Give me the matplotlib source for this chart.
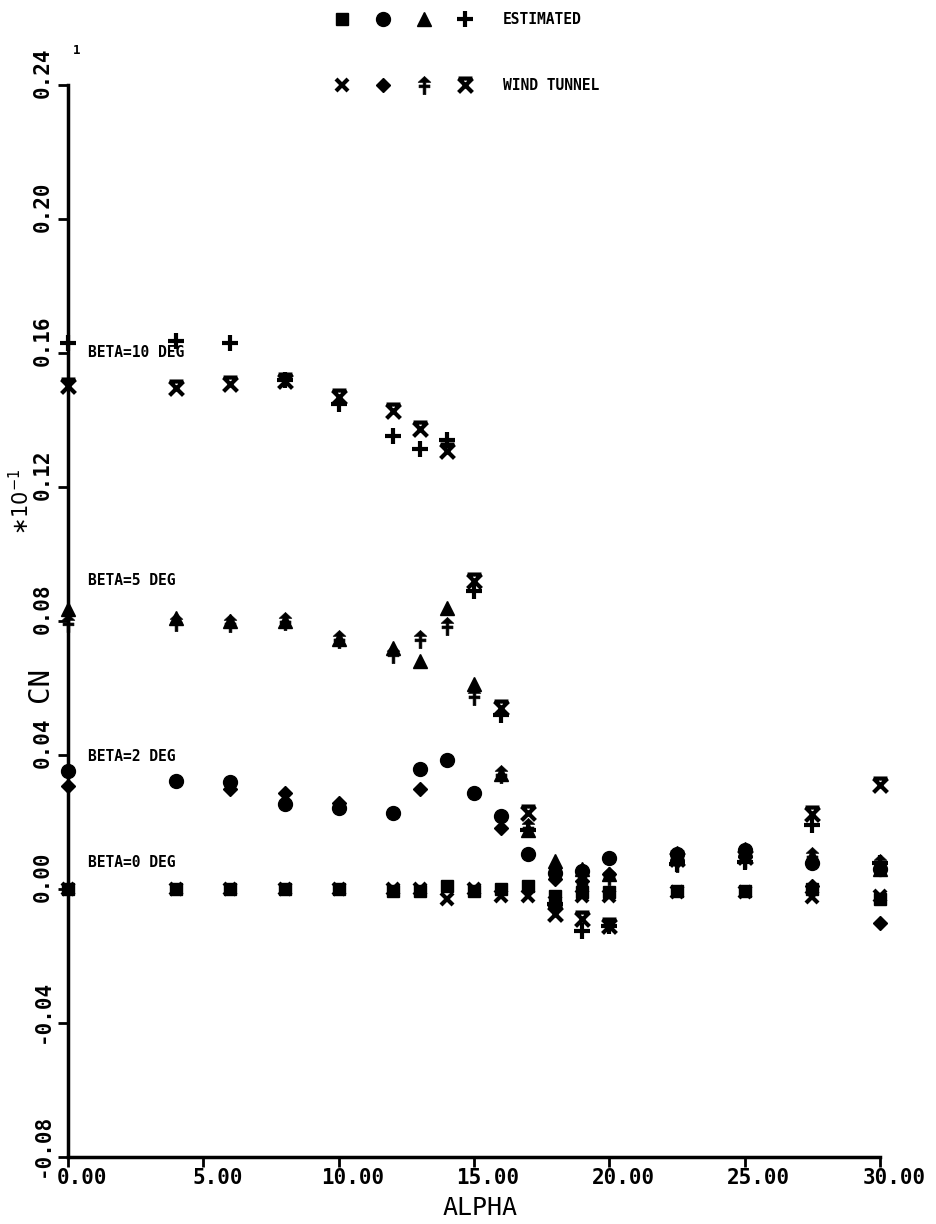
import numpy as np
import matplotlib
matplotlib.use("Agg")
import matplotlib.pyplot as plt
from matplotlib.path import Path
from matplotlib.transforms import ScaledTranslation

# angle of attack, deg
alpha = [0, 4, 6, 8, 10, 12, 13, 14, 15, 16, 17, 18, 19, 20, 22.5, 25, 27.5, 30]

# CN (x10^-1), estimated vs wind tunnel for each sideslip
cn_est_b0 = [0.0, 0.0, 0.0, 0.0, 0.0, -0.0005, -0.0005, 0.001, -0.0005, 0.0, 0.001,
             -0.002, -0.001, -0.001, -0.0005, -0.0005, 0.0, -0.003]
cn_wt_b0 = [0.0, 0.0, 0.0, 0.0, 0.0, 0.0, 0.0, -0.003, 0.0, -0.002, -0.002,
            -0.004, -0.002, -0.002, -0.001, -0.001, -0.0025, -0.002]
cn_est_b2 = [0.0352, 0.0322, 0.032, 0.0254, 0.0242, 0.0227, 0.0358, 0.0385, 0.0287, 0.0218,
             0.0104, 0.0048, 0.0055, 0.0093, 0.0105, 0.0115, 0.0078, 0.006]
cn_wt_b2 = [0.0307, 0.0322, 0.0298, 0.0287, 0.0257, 0.0227, 0.0298, 0.0385, 0.0287, 0.0182,
            0.0104, 0.003, 0.0025, 0.0045, 0.0085, 0.0095, 0.001, -0.010]
cn_est_b5 = [0.0836, 0.081, 0.080, 0.080, 0.0746, 0.072, 0.068, 0.0839, 0.0612, 0.0343,
             0.0175, 0.0084, 0.006, 0.0045, 0.0107, 0.012, 0.0100, 0.006]
cn_wt_b5 = [0.0794, 0.0798, 0.0795, 0.080, 0.0746, 0.070, 0.0746, 0.0785, 0.0576, 0.0343,
            0.0185, 0.005, 0.0015, 0.004, 0.0077, 0.009, 0.0100, 0.0077]
cn_est_b10 = [0.163, 0.1636, 0.163, 0.152, 0.1448, 0.1352, 0.1313, 0.134, 0.089, 0.052,
              0.0175, -0.0045, -0.0125, -0.011, 0.0075, 0.008, 0.019, 0.0077]
cn_wt_b10 = [0.150, 0.1496, 0.1507, 0.1516, 0.147, 0.1427, 0.1373, 0.1307, 0.092, 0.054,
             0.0227, -0.0075, -0.009, -0.011, 0.009, 0.0095, 0.0224, 0.031]

xticks = [0, 5, 10, 15, 20, 25, 30]
yticks = [-0.08, -0.04, 0.0, 0.04, 0.08, 0.12, 0.16, 0.20, 0.24]
beta_labels = ["BETA=10 DEG", "BETA=5 DEG", "BETA=2 DEG", "BETA=0 DEG"]
beta_label_y = [0.160, 0.092, 0.0397, 0.0078]

# custom plotter symbols
arrow_plus = Path([(0, 1), (0.7, 0.35), (0.15, 0.35), (0.15, 0.05), (0.6, 0.05), (0.6, -0.25),
                   (0.15, -0.25), (0.15, -1), (-0.15, -1), (-0.15, -0.25), (-0.6, -0.25),
                   (-0.6, 0.05), (-0.15, 0.05), (-0.15, 0.35), (-0.7, 0.35), (0, 1)],
                  [Path.MOVETO] + [Path.LINETO] * 14 + [Path.CLOSEPOLY])
x_bar = Path([(-1, 1), (1, -1), (1, 1), (-1, -1), (-1, 1), (1, 1)],
             [Path.MOVETO, Path.LINETO, Path.MOVETO, Path.LINETO, Path.MOVETO, Path.LINETO])

styles = [
    (cn_est_b0, dict(marker="s", ms=9, mfc="k", mec="k")),
    (cn_est_b2, dict(marker="o", ms=10, mfc="k", mec="k")),
    (cn_est_b5, dict(marker="^", ms=10, mfc="k", mec="k")),
    (cn_est_b10, dict(marker="+", ms=12, mew=3, mec="k")),
    (cn_wt_b0, dict(marker="x", ms=9, mew=3, mec="k")),
    (cn_wt_b2, dict(marker="D", ms=7, mfc="k", mec="k")),
    (cn_wt_b5, dict(marker=arrow_plus, ms=13, mfc="k", mec="k", mew=0.5)),
    (cn_wt_b10, dict(marker=x_bar, ms=10, mfc="none", mec="k", mew=3)),
]

fig = plt.figure(figsize=(9.37, 12.24), dpi=100)
ax = fig.add_axes([0.0726, 0.0547, 0.8664, 0.8759])
ax.set_xlim(0, 30)
ax.set_ylim(-0.08, 0.24)

for vals, st in styles:
    ax.plot(alpha, vals, ls="none", clip_on=False, zorder=3, **st)

for lab, yv in zip(beta_labels, beta_label_y):
    ax.text(0.74, yv, lab, family="DejaVu Sans Mono", fontweight="bold", fontsize=10.5,
            va="center", ha="left")

for s in ["top", "right"]:
    ax.spines[s].set_visible(False)
for s in ["left", "bottom"]:
    ax.spines[s].set_linewidth(2.5)

ax.set_xticks(xticks)
ax.set_xticklabels(["%.2f" % v for v in xticks], family="DejaVu Sans Mono",
                   fontweight="bold", fontsize=15)
ax.set_yticks(yticks)
ax.set_yticklabels(["%.2f" % v for v in yticks], family="DejaVu Sans Mono",
                   fontweight="bold", fontsize=15, rotation=90, va="center")
ax.tick_params(axis="both", direction="out", length=7, width=2, pad=4)
ax.tick_params(axis="x", pad=1)
for lab in ax.get_xticklabels():
    lab.set_transform(lab.get_transform() + ScaledTranslation(0.14, 0, fig.dpi_scale_trans))
for lab in ax.get_yticklabels():
    lab.set_transform(lab.get_transform() + ScaledTranslation(0, 0.12, fig.dpi_scale_trans))

fig.text(0.512, 1 - 1208 / 1224, "ALPHA", family="DejaVu Sans Mono", fontsize=18,
         ha="center", va="center")
fig.text(0.043, 1 - 685 / 1224, "CN", family="DejaVu Sans Mono", fontsize=21,
         rotation=90, ha="center", va="center")
fig.text(0.022, 1 - 502 / 1224, r"$\ast$10$^{-1}$", family="DejaVu Sans", fontsize=15,
         rotation=90, ha="center", va="center")
fig.text(0.082, 1 - 50 / 1224, "1", family="DejaVu Sans Mono", fontweight="bold",
         fontsize=9, ha="center", va="center")

# legend drawn in figure coords like the plotter did
leg_x = [342 / 937, 383 / 937, 424 / 937, 465 / 937]
for i, (vals, st) in enumerate(styles):
    row_y = 1 - 19 / 1224 if i < 4 else 1 - 85 / 1224
    fig.lines.append(plt.Line2D([leg_x[i % 4]], [row_y], transform=fig.transFigure,
                                ls="none", **st))
fig.text(503 / 937, 1 - 19 / 1224, "ESTIMATED", family="DejaVu Sans Mono",
         fontweight="bold", fontsize=10.5, va="center")
fig.text(503 / 937, 1 - 85 / 1224, "WIND TUNNEL", family="DejaVu Sans Mono",
         fontweight="bold", fontsize=10.5, va="center")

fig.savefig("out.png", dpi=100)
